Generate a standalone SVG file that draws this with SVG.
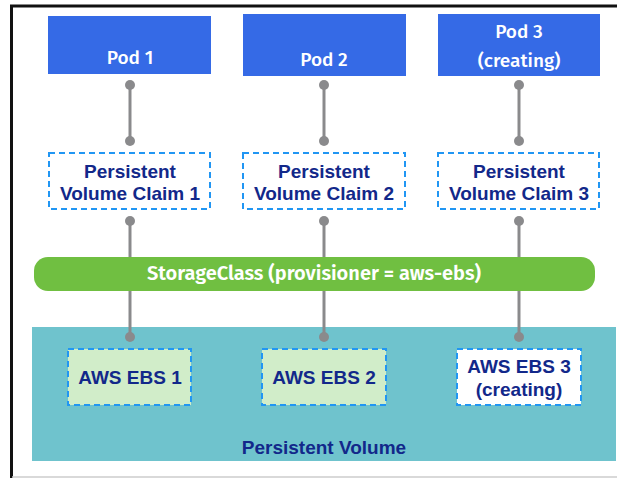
<svg xmlns="http://www.w3.org/2000/svg" width="617" height="478" viewBox="0 0 617 478">
<style>
.pod{fill:#356ae6;}
.podt{font-family:"Fira Sans","Open Sans","Noto Sans",sans-serif;font-size:19px;font-weight:500;fill:#ffffff;text-anchor:middle;}
.pvc{fill:#ffffff;stroke:#2196f3;stroke-width:2;stroke-dasharray:6,4;}
.ebs{fill:#d1edc9;stroke:#2196f3;stroke-width:2;stroke-dasharray:6,4;}
.ebsw{fill:#ffffff;stroke:#2196f3;stroke-width:2;stroke-dasharray:6,4;}
.lbl{font-family:"Liberation Sans",Arial,sans-serif;font-size:19px;font-weight:bold;fill:#12288a;text-anchor:middle;}
.conn{stroke:#8a8a8c;stroke-width:3;fill:none;}
.dot{fill:#8a8a8c;}
.sc{font-family:"Fira Sans","Open Sans","Noto Sans",sans-serif;font-size:20px;font-weight:600;fill:#ffffff;text-anchor:middle;}
</style>
<rect x="0" y="0" width="617" height="478" fill="#ffffff"/>
<g id="frame">
<line x1="10" y1="6" x2="617" y2="6" stroke="#111" stroke-width="3"/>
<line x1="11.5" y1="5" x2="11.5" y2="478" stroke="#111" stroke-width="3"/>
<line x1="12" y1="477" x2="617" y2="477" stroke="#cccccc" stroke-width="1.5"/>
</g>
<g id="persistent-volume">
<rect x="32" y="327" width="584" height="134" fill="#6fc3cd"/>
<text class="lbl" x="324" y="454">Persistent Volume</text>
</g>
<g id="connectors">
<line class="conn" x1="130" y1="85" x2="130" y2="141"/>
<circle class="dot" cx="130" cy="85" r="5"/><circle class="dot" cx="130" cy="141" r="5"/>
<line class="conn" x1="324" y1="85" x2="324" y2="141"/>
<circle class="dot" cx="324" cy="85" r="5"/><circle class="dot" cx="324" cy="141" r="5"/>
<line class="conn" x1="519" y1="85" x2="519" y2="141"/>
<circle class="dot" cx="519" cy="85" r="5"/><circle class="dot" cx="519" cy="141" r="5"/>
<line class="conn" x1="130" y1="221" x2="130" y2="337"/>
<circle class="dot" cx="130" cy="221" r="5"/><circle class="dot" cx="130" cy="337" r="5"/>
<line class="conn" x1="324" y1="221" x2="324" y2="337"/>
<circle class="dot" cx="324" cy="221" r="5"/><circle class="dot" cx="324" cy="337" r="5"/>
<line class="conn" x1="519" y1="221" x2="519" y2="337"/>
<circle class="dot" cx="519" cy="221" r="5"/><circle class="dot" cx="519" cy="337" r="5"/>
</g>
<g id="pod1">
<rect class="pod" x="48" y="16" width="163" height="58"/>
<text class="podt" x="130" y="64">Pod 1</text>
</g>
<g id="pod2">
<rect class="pod" x="243" y="14" width="163" height="62"/>
<text class="podt" x="324" y="66">Pod 2</text>
</g>
<g id="pod3">
<rect class="pod" x="438" y="14" width="162" height="62"/>
<text class="podt" x="519" y="38">Pod 3</text>
<text class="podt" x="519" y="67">(creating)</text>
</g>
<g id="pvc1">
<rect class="pvc" x="49" y="153" width="161" height="56"/>
<text class="lbl" x="130" y="178">Persistent</text>
<text class="lbl" x="130" y="200">Volume Claim 1</text>
</g>
<g id="pvc2">
<rect class="pvc" x="243" y="153" width="162" height="56"/>
<text class="lbl" x="324" y="178">Persistent</text>
<text class="lbl" x="324" y="200">Volume Claim 2</text>
</g>
<g id="pvc3">
<rect class="pvc" x="438" y="153" width="161" height="56"/>
<text class="lbl" x="519" y="178">Persistent</text>
<text class="lbl" x="519" y="200">Volume Claim 3</text>
</g>
<g id="storageclass">
<rect x="34" y="257" width="561" height="34" rx="14" fill="#70bf41"/>
<text class="sc" x="314" y="280">StorageClass (provisioner = aws-ebs)</text>
</g>
<g id="ebs1">
<rect class="ebs" x="68" y="349" width="123" height="56"/>
<text class="lbl" x="130" y="384">AWS EBS 1</text>
</g>
<g id="ebs2">
<rect class="ebs" x="262" y="349" width="124" height="56"/>
<text class="lbl" x="324" y="384">AWS EBS 2</text>
</g>
<g id="ebs3">
<rect class="ebsw" x="457" y="349" width="124" height="56"/>
<text class="lbl" x="519" y="373">AWS EBS 3</text>
<text class="lbl" x="519" y="396">(creating)</text>
</g>
</svg>
